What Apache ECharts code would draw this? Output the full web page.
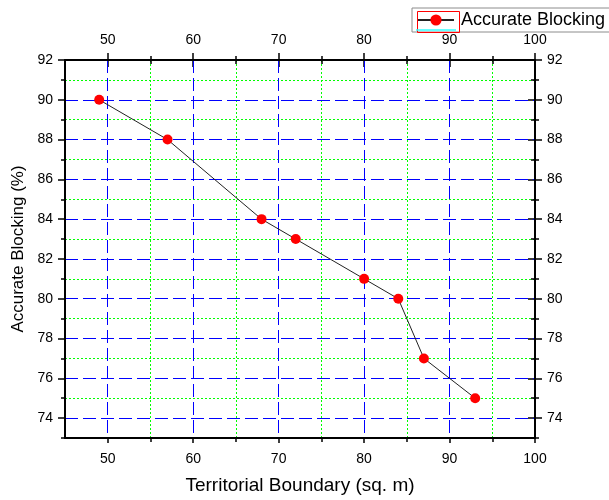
<!DOCTYPE html>
<html>
<head>
<meta charset="utf-8">
<script src="https://cdn.jsdelivr.net/npm/echarts@6/dist/echarts.min.js"></script>
<style>
  html, body { margin: 0; padding: 0; background: #fff; }
  #chart { width: 609px; height: 500px; }
</style>
</head>
<body>
<div id="chart"></div>
<script>
// values
const xValues = [49, 57, 68, 72, 80, 84, 87, 93];
const yValues = [90, 88, 84, 83, 81, 80, 77, 75];
const seriesName = 'Accurate Blocking';

// ticks
const xRange = [45, 100];
const yRange = [73, 92];
const xMajor = [50, 60, 70, 80, 90, 100];
const xMinor = [55, 65, 75, 85, 95];
const yMajor = [74, 76, 78, 80, 82, 84, 86, 88, 90, 92];
const yMinor = [73, 75, 77, 79, 81, 83, 85, 87, 89, 91];

const FONT = '"Liberation Sans", Arial, sans-serif';
const blueDash = { color: '#0000ff', width: 1, type: [13, 5] };
const greenDot = { color: '#00ff00', width: 1, type: [2, 2] };

function axis(dim, position, values, o) {
  const range = dim === 'x' ? xRange : yRange;
  return {
    type: 'value',
    position: position,
    min: range[0],
    max: range[1],
    axisLine: { show: !!o.line, onZero: false, lineStyle: { color: '#000', width: 2 } },
    axisTick: {
      show: true, customValues: values, inside: !!o.inside, length: o.len,
      lineStyle: { color: '#000', width: 1.5 }
    },
    axisLabel: o.labels
      ? { show: true, customValues: values, color: '#000', fontSize: 14, margin: o.margin, fontFamily: FONT }
      : { show: false },
    splitLine: o.split ? { show: true, lineStyle: o.split } : { show: false },
    name: o.name || '',
    nameLocation: 'middle',
    nameGap: o.nameGap || 0,
    nameTextStyle: { color: '#000', fontSize: o.nameSize || 17, fontFamily: FONT },
    z: o.line ? 3 : 2,
  };
}

const chart = echarts.init(document.getElementById('chart'), null, { renderer: 'canvas' });

chart.setOption({
  backgroundColor: '#fff',
  animation: false,
  grid: { left: 65, right: 74, top: 60, bottom: 62 },
  legend: {
    left: 412, top: 8,
    padding: [3, 20, 3, 5],
    borderColor: '#8c8c8c', borderWidth: 1, borderRadius: 0,
    itemWidth: 36, itemHeight: 14, itemGap: 0,
    textStyle: { color: '#000', fontSize: 18, fontFamily: FONT, lineHeight: 16, padding: [0, 0, 0, 2] },
    data: [seriesName],
  },
  xAxis: [
    axis('x', 'bottom', xMajor, { line: true, labels: true, len: 5, margin: 14, split: blueDash,
      name: 'Territorial Boundary (sq. m)', nameGap: 38, nameSize: 19 }),
    axis('x', 'bottom', xMinor, { len: 4, split: greenDot }),
    axis('x', 'top', xMajor, { line: true, labels: true, len: 7, margin: 13 }),
    axis('x', 'top', xMajor, { len: 7, inside: true }),
    axis('x', 'top', xMinor, { len: 4 }),
    axis('x', 'top', xMinor, { len: 4, inside: true }),
  ],
  yAxis: [
    axis('y', 'left', yMajor, { line: true, labels: true, len: 7, margin: 12, split: blueDash,
      name: 'Accurate Blocking (%)', nameGap: 34, nameSize: 17 }),
    axis('y', 'left', yMinor, { len: 4, split: greenDot }),
    axis('y', 'right', yMajor, { line: true, labels: true, len: 7, margin: 12 }),
    axis('y', 'right', yMajor, { len: 7, inside: true }),
    axis('y', 'right', yMinor, { len: 4 }),
    axis('y', 'right', yMinor, { len: 4, inside: true }),
  ],
  graphic: [
    { type: 'rect', left: 415, top: 9, shape: { width: 42, height: 21 },
      style: { fill: 'none', stroke: '#ff0000', lineWidth: 1 }, z: 100 },
    { type: 'line', shape: { x1: 416, y1: 30, x2: 456, y2: 30 },
      style: { stroke: '#33ffff', lineWidth: 1.5 }, z: 101 },
  ],
  series: [{
    name: seriesName,
    type: 'line',
    xAxisIndex: 0,
    yAxisIndex: 0,
    data: xValues.map((x, i) => [x, yValues[i]]),
    symbol: 'circle',
    symbolSize: 10,
    itemStyle: { color: '#ff0000' },
    lineStyle: { color: '#222', width: 1 },
    z: 10,
  }],
});
</script>
</body>
</html>
